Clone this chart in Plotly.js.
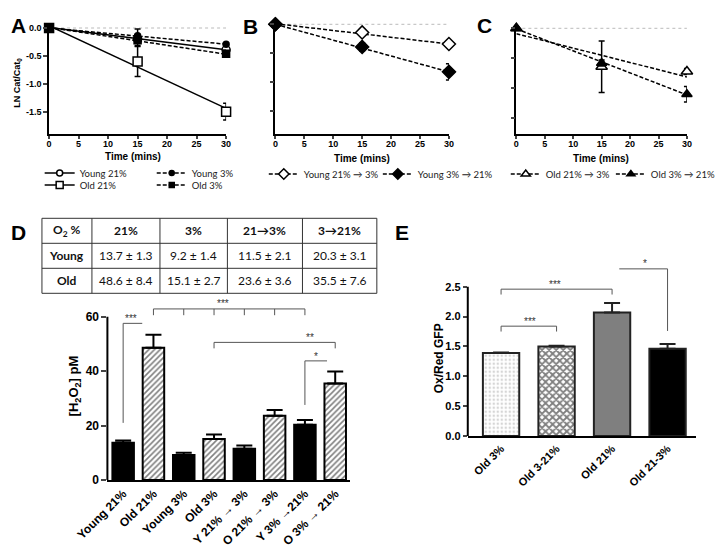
<!DOCTYPE html>
<html>
<head>
<meta charset="utf-8">
<script src="https://cdn.plot.ly/plotly-3.0.1.min.js"></script>
<style>
  html, body { margin: 0; padding: 0; background: #fff; }
  #chart { width: 721px; height: 553px; }
</style>
</head>
<body>
<div id="chart"></div>
<script>
// time course, panels A-C
const timePts = [0, 15, 30];
const fitX = [0, 30];

const young21 = [0, -0.20, -0.39];
const young21Err = [0, 0.08, 0.03];
const young21Fit = [0.01, -0.39];
const young3 = [0, -0.14, -0.29];
const young3Err = [0, 0.12, 0.02];
const young3Fit = [0.0, -0.29];
const old21 = [0, -0.60, -1.50];
const old21Err = [0, 0.27, 0.15];
const old21Fit = [0.04, -1.44];
const old3 = [0, -0.22, -0.46];
const old3Err = [0, 0.10, 0.06];
const old3Fit = [0.01, -0.47];

const young21to3 = [0, -0.14, -0.34];
const young21to3Err = [0, 0.05, 0.02];
const young21to3Fit = [0.01, -0.34];
const young3to21 = [0, -0.39, -0.82];
const young3to21Err = [0, 0.07, 0.14];
const young3to21Fit = [0.0, -0.82];

const old21to3 = [0, -0.64, -0.72];
const old21to3Err = [0, 0.43, 0.05];
const old21to3Fit = [-0.09, -0.81];
const old3to21 = [0, -0.58, -1.10];
const old3to21Err = [0, 0.05, 0.13];
const old3to21Fit = [-0.01, -1.11];

// panel D table + bars
const tableHeader = ['O<sub>2</sub> %', '21%', '3%', '21→3%', '3→21%'];
const tableRows = ['Young', 'Old'];
const tableYoung = ['13.7 ± 1.3', '9.2 ± 1.4', '11.5 ± 2.1', '20.3 ± 3.1'];
const tableOld = ['48.6 ± 8.4', '15.1 ± 2.7', '23.6 ± 3.6', '35.5 ± 7.6'];

const h2o2Labels = ['Young 21%', 'Old 21%', 'Young 3%', 'Old 3%', 'Y 21% → 3%', 'O 21% → 3%', 'Y 3% →21%', 'O 3% → 21%'];
const h2o2Age = ['young', 'old', 'young', 'old', 'young', 'old', 'young', 'old'];
const h2o2Mean = [13.7, 48.6, 9.2, 15.1, 11.5, 23.6, 20.3, 35.5];
const h2o2Sem = [0.8, 4.8, 0.8, 1.6, 1.2, 2.1, 1.8, 4.4];

// panel E
const gfpLabels = ['Old 3%', 'Old 3-21%', 'Old 21%', 'Old 21-3%'];
const gfpMean = [1.39, 1.50, 2.07, 1.46];
const gfpErr = [0.01, 0.01, 0.16, 0.08];

const W = 721, H = 553;
const px = v => v / W;
const py = v => 1 - v / H;

const tickFont = { family: 'Liberation Sans, Arial', size: 9, weight: 'bold', color: '#000' };
const legFont = { family: 'Lato, Open Sans', size: 9.5, color: '#222' };

const legends = {};
let legendCount = 0;
function newLegend(symX, rowY) {
    legendCount++;
    const id = legendCount === 1 ? 'legend' : 'legend' + legendCount;
    legends[id] = {
        orientation: 'h', xanchor: 'left', yanchor: 'middle', x: px(symX - 22), y: py(rowY),
        font: legFont, bgcolor: 'rgba(0,0,0,0)', itemwidth: 30
    };
    return id;
}

function seriesTraces(xa, ya, name, vals, errs, fit, sym, size, filled, dash, legPos) {
    const marker = { symbol: sym, size: size, color: filled ? '#000' : '#fff', line: { color: '#000', width: 1.5 } };
    const legMarker = { symbol: sym, size: Math.max(size - 2, 5), color: marker.color, line: { color: '#000', width: 1.5 } };
    const line = { color: '#000', width: 1.5, dash: dash };
    return [
        { type: 'scatter', mode: 'lines', x: fitX, y: fit, line: line, xaxis: xa, yaxis: ya, showlegend: false, hoverinfo: 'skip' },
        {
            type: 'scatter', mode: 'markers', x: timePts, y: vals, marker: marker, xaxis: xa, yaxis: ya,
            showlegend: false, cliponaxis: false,
            error_y: { type: 'data', array: errs, visible: true, color: '#000', thickness: 1.5, width: 3 }
        },
        {
            type: 'scatter', mode: 'lines+markers', x: [null], y: [null], name: name, marker: legMarker,
            line: { color: '#000', width: 1.5, dash: dash }, xaxis: xa, yaxis: ya,
            legend: newLegend(legPos[0], legPos[1])
        }
    ];
}

const dashed = '4px,2px';
let traces = [];
traces = traces.concat(
    seriesTraces('x', 'y', 'Young 21%', young21, young21Err, young21Fit, 'circle', 8, false, 'solid', [62, 173]),
    seriesTraces('x', 'y', 'Young 3%', young3, young3Err, young3Fit, 'circle', 6, true, dashed, [175, 173]),
    seriesTraces('x', 'y', 'Old 21%', old21, old21Err, old21Fit, 'square', 9, false, 'solid', [62, 185]),
    seriesTraces('x', 'y', 'Old 3%', old3, old3Err, old3Fit, 'square', 7, true, dashed, [175, 185]),
    seriesTraces('x2', 'y2', 'Young 21% → 3%', young21to3, young21to3Err, young21to3Fit, 'diamond', 10, false, dashed, [288, 174]),
    seriesTraces('x2', 'y2', 'Young 3% → 21%', young3to21, young3to21Err, young3to21Fit, 'diamond', 10, true, dashed, [403, 174]),
    seriesTraces('x3', 'y3', 'Old 21% → 3%', old21to3, old21to3Err, old21to3Fit, 'triangle-up', 10, false, dashed, [532, 174]),
    seriesTraces('x3', 'y3', 'Old 3% → 21%', old3to21, old3to21Err, old3to21Fit, 'triangle-up', 9, true, dashed, [638, 174])
);

// D bars: young solid black, old hatched
const barIdx = h2o2Labels.map((_, i) => i);
const pick = (arr, age) => arr.filter((_, i) => h2o2Age[i] === age);
['young', 'old'].forEach(age => {
    const errs = pick(h2o2Sem, age);
    const m = { color: age === 'young' ? '#000' : '#fff', line: { color: '#000', width: 2 } };
    if (age === 'old') m.pattern = { shape: '/', fillmode: 'overlay', bgcolor: '#fff', fgcolor: '#000', size: 4, solidity: 0.4 };
    traces.push({
        type: 'bar', xaxis: 'x4', yaxis: 'y4',
        x: pick(barIdx, age), y: pick(h2o2Mean, age), width: 0.71, marker: m,
        error_y: { type: 'data', symmetric: false, array: errs, arrayminus: errs.map(() => 0), color: '#000', thickness: 2, width: 8 },
        showlegend: false, hoverinfo: 'skip'
    });
});

// E bars
const gfpFill = ['#fff', '#fff', '#7f7f7f', '#000'];
const gfpPattern = ['.', 'x', '', ''];
const gfpFg = ['#aaa', '#000', '#000', '#000'];
gfpLabels.forEach((lab, i) => {
    const m = { color: gfpFill[i], line: { color: '#222', width: 2 } };
    if (gfpPattern[i]) m.pattern = { shape: gfpPattern[i], fillmode: 'overlay', bgcolor: '#fff', fgcolor: gfpFg[i], size: i === 0 ? 4 : 5, solidity: i === 0 ? 0.3 : 0.6 };
    traces.push({
        type: 'bar', xaxis: 'x5', yaxis: 'y5',
        x: [i], y: [gfpMean[i]], width: 0.655, marker: m,
        error_y: { type: 'data', symmetric: false, array: [gfpErr[i]], arrayminus: [0], color: '#222', thickness: 2, width: 8 },
        showlegend: false, hoverinfo: 'skip'
    });
});

function timeXAxis(x0, x1) {
    return {
        domain: [px(x0), px(x1)], range: [0, 30], tickvals: [0, 5, 10, 15, 20, 25, 30],
        showline: true, linewidth: 1.5, linecolor: '#000', ticks: 'outside', ticklen: 3, tickwidth: 1.5,
        ticklabelstandoff: -3,
        tickfont: tickFont, showgrid: false, zeroline: false
    };
}
function lnYAxis(anchor, top, bottom, zeroPx, perUnit, labels) {
    return {
        anchor: anchor, domain: [py(bottom), py(top)],
        range: [-(bottom - zeroPx) / perUnit, (zeroPx - top) / perUnit],
        tickvals: [0, -0.5, -1, -1.5], ticktext: ['0.0', '-0.5', '-1.0', '-1.5'], showticklabels: labels,
        showline: true, linewidth: 1.5, linecolor: '#000', ticks: 'outside', ticklen: 4, tickwidth: 1.5,
        tickfont: tickFont, showgrid: false, zeroline: false
    };
}

const shapes = [];
const annotations = [];

// table grid drawn as paper lines, text as annotations
const colEdges = [42.3, 92.7, 161.3, 229.3, 305, 380];
const rowEdges = [218.3, 243.3, 268.3, 293.3];
colEdges.forEach(cx => shapes.push({ type: 'line', xref: 'paper', yref: 'paper', x0: px(cx), x1: px(cx), y0: py(rowEdges[0]), y1: py(rowEdges[3]), line: { color: '#333', width: 1 } }));
rowEdges.forEach(ry => shapes.push({ type: 'line', xref: 'paper', yref: 'paper', x0: px(colEdges[0]), x1: px(colEdges[5]), y0: py(ry), y1: py(ry), line: { color: '#333', width: 1 } }));
const tableGrid = [tableHeader, [tableRows[0]].concat(tableYoung), [tableRows[1]].concat(tableOld)];
tableGrid.forEach((row, r) => {
    row.forEach((txt, c) => {
        const bold = r === 0 || c === 0;
        annotations.push({
            xref: 'paper', yref: 'paper', showarrow: false,
            x: px((colEdges[c] + colEdges[c + 1]) / 2), y: py((rowEdges[r] + rowEdges[r + 1]) / 2),
            xanchor: 'center', yanchor: 'middle', text: txt,
            font: { family: 'Lato, Open Sans', size: 12, weight: bold ? 'bold' : 'normal', color: '#111' }
        });
    });
});

// dotted zero lines
[['x', 'y'], ['x2', 'y2'], ['x3', 'y3']].forEach(([xa, ya]) => {
    shapes.push({ type: 'line', xref: xa, yref: ya, x0: 0, x1: 30, y0: 0, y1: 0, line: { color: '#bbb', width: 1, dash: 'dot' }, layer: 'below' });
});
// manual y axis lines for D and E (brackets rise above the top tick)
shapes.push({ type: 'line', xref: 'paper', yref: 'y4', x0: px(108.3), x1: px(108.3), y0: 0, y1: 60, line: { color: '#000', width: 2 } });
shapes.push({ type: 'line', xref: 'paper', yref: 'y5', x0: px(471.7), x1: px(471.7), y0: 0, y1: 2.5, line: { color: '#000', width: 2 } });

// significance brackets
const bracketColor = '#555';
function seg(xa, ya, x0, y0, x1, y1) {
    shapes.push({ type: 'line', xref: xa, yref: ya, x0: x0, y0: y0, x1: x1, y1: y1, line: { color: bracketColor, width: 1 } });
}
// D
seg('x4', 'y4', 0, 21, 0, 57.6); seg('x4', 'y4', 0, 57.6, 0.63, 57.6);
seg('x4', 'y4', 1, 62.9, 6, 62.9);
[1, 2, 3, 4, 5, 6].forEach(i => seg('x4', 'y4', i, 60.6, i, 62.9));
seg('x4', 'y4', 3, 50.6, 7, 50.6); seg('x4', 'y4', 3, 48.4, 3, 50.6); seg('x4', 'y4', 7, 48.4, 7, 50.6);
seg('x4', 'y4', 6, 27.6, 6, 43.8); seg('x4', 'y4', 6, 43.8, 6.73, 43.8);
// E
seg('x5', 'y5', 0, 1.84, 1, 1.84); seg('x5', 'y5', 0, 1.75, 0, 1.84); seg('x5', 'y5', 1, 1.75, 1, 1.84);
seg('x5', 'y5', 0, 2.46, 2, 2.46); seg('x5', 'y5', 0, 2.37, 0, 2.46); seg('x5', 'y5', 2, 2.37, 2, 2.46);
seg('x5', 'y5', 2.13, 2.80, 3, 2.80); seg('x5', 'y5', 3, 1.76, 3, 2.80);

const starFont = { family: 'Liberation Sans, Arial', size: 10, color: '#333' };
function star(xa, ya, x, y, t) {
    return { xref: xa, yref: ya, x: x, y: y, text: t, showarrow: false, font: starFont, yanchor: 'bottom' };
}
function label(t, x, y, size, angle) {
    return {
        xref: 'paper', yref: 'paper', x: px(x), y: py(y), text: t, showarrow: false, textangle: angle || 0,
        font: { family: 'Liberation Sans, Arial', size: size, weight: 'bold', color: '#000' }, xanchor: 'center', yanchor: 'middle'
    };
}

annotations.push(
    label('A', 18.5, 25.5, 21), label('B', 253, 26.5, 21), label('C', 489, 25.5, 21),
    label('D', 18.8, 232.5, 21), label('E', 405, 232.5, 21),
    label('LN Cat/Cat<sub>0</sub>', 17, 83, 9, -90),
    label('Time (mins)', 134, 156, 10), label('Time (mins)', 365, 158, 10), label('Time (mins)', 606, 158, 10),
    label('[H<sub>2</sub>O<sub>2</sub>] pM', 75, 386, 13, -90),
    label('Ox/Red GFP', 443, 358, 12, -90),
    star('x4', 'y4', 0.27, 56.8, '***'),
    star('x4', 'y4', 3.3, 62.2, '***'),
    star('x4', 'y4', 6.17, 49.6, '**'),
    star('x4', 'y4', 6.38, 42.6, '*'),
    star('x5', 'y5', 0.52, 1.80, '***'),
    star('x5', 'y5', 0.98, 2.42, '***'),
    star('x5', 'y5', 2.59, 2.76, '*')
);

const layout = Object.assign({
    width: W, height: H,
    margin: { l: 0, r: 0, t: 0, b: 0 },
    paper_bgcolor: '#fff', plot_bgcolor: 'rgba(0,0,0,0)',
    font: { family: 'Liberation Sans, Arial', color: '#000' },
    showlegend: true,
    xaxis: timeXAxis(49.5, 228),
    yaxis: lnYAxis('x', 26.9, 134.3, 28, 55.8, true),
    xaxis2: timeXAxis(277.7, 452.7),
    yaxis2: lnYAxis('x2', 21.4, 134.3, 24.3, 58, false),
    xaxis3: timeXAxis(520.7, 692.7),
    yaxis3: lnYAxis('x3', 25.3, 136, 28.3, 60, false),
    xaxis4: {
        anchor: 'y4', domain: [px(108.3), px(353.3)], range: [-0.52, 7.5],
        tickvals: barIdx, ticktext: h2o2Labels, tickangle: -45,
        showline: true, linewidth: 2, linecolor: '#000', ticks: '', showgrid: false, zeroline: false,
        tickfont: { family: 'Liberation Sans, Arial', size: 12, weight: 'bold', color: '#000' }
    },
    yaxis4: {
        anchor: 'x4', domain: [py(480), py(300.5)], range: [0, 66],
        tickvals: [0, 20, 40, 60], showline: false, ticks: 'outside', ticklen: 5, tickwidth: 2,
        showgrid: false, zeroline: false,
        tickfont: { family: 'Liberation Sans, Arial', size: 12, weight: 'bold', color: '#000' }
    },
    xaxis5: {
        anchor: 'y5', domain: [px(471.7), px(701.7)], range: [-0.6, 3.51],
        tickvals: gfpLabels.map((_, i) => i), ticktext: gfpLabels, tickangle: -45,
        showline: true, linewidth: 2, linecolor: '#000', ticks: '', showgrid: false, zeroline: false,
        tickfont: { family: 'Liberation Sans, Arial', size: 11, weight: 'bold', color: '#000' }
    },
    yaxis5: {
        anchor: 'x5', domain: [py(436), py(261.7)], range: [0, 2.92],
        tickvals: [0, 0.5, 1, 1.5, 2, 2.5], ticktext: ['0.0', '0.5', '1.0', '1.5', '2.0', '2.5'],
        showline: false, ticks: 'outside', ticklen: 4, tickwidth: 2, showgrid: false, zeroline: false,
        tickfont: { family: 'Liberation Sans, Arial', size: 11, weight: 'bold', color: '#000' }
    },
    barmode: 'overlay',
    shapes: shapes,
    annotations: annotations
}, legends);

Plotly.newPlot('chart', traces, layout, { displayModeBar: false });
</script>
</body>
</html>
